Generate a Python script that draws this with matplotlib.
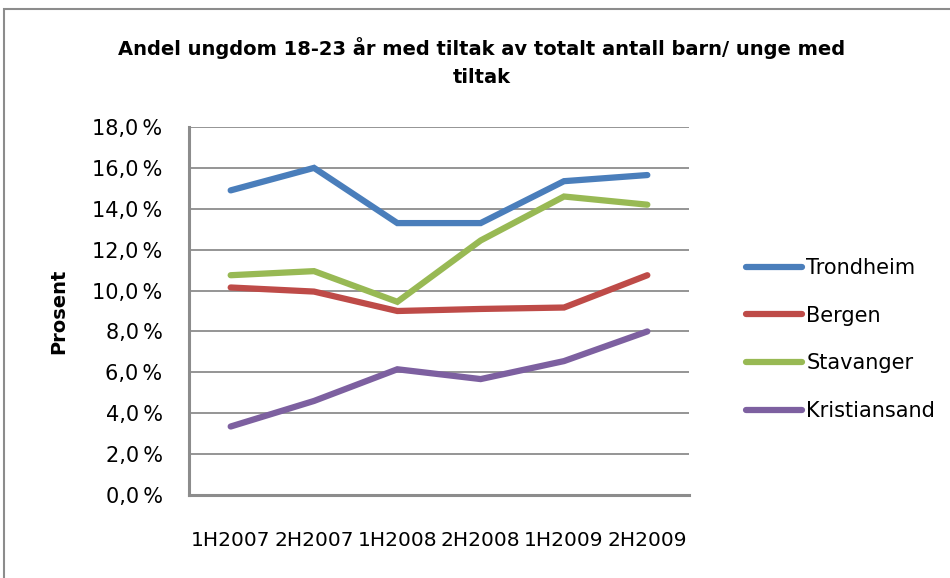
import matplotlib
matplotlib.use('Agg')
import matplotlib.pyplot as plt
from matplotlib.patches import Rectangle
from matplotlib.ticker import FuncFormatter

# data
categories = ['1H2007', '2H2007', '1H2008', '2H2008', '1H2009', '2H2009']
trondheim = [14.9, 16.0, 13.3, 13.3, 15.35, 15.65]
bergen = [10.15, 9.95, 9.0, 9.1, 9.17, 10.75]
stavanger = [10.75, 10.95, 9.45, 12.45, 14.6, 14.2]
kristiansand = [3.35, 4.6, 6.15, 5.67, 6.55, 8.0]
series_names = ['Trondheim', 'Bergen', 'Stavanger', 'Kristiansand']
colors = ['#4A7EBB', '#BE4B48', '#98B954', '#7D60A0']

title = 'Andel ungdom 18-23 år med tiltak av totalt antall barn/ unge med\ntiltak'
ylabel = 'Prosent'

plt.rcParams['font.family'] = ['DejaVu Sans']

fig = plt.figure(figsize=(9.5, 5.78), dpi=100)

# outer chart border (cut off at right and bottom like the reference)
fig.patches.append(Rectangle((4 / 950, -0.05), 1.0, 1.05 - 9 / 578,
                             transform=fig.transFigure, fill=False,
                             edgecolor='#8c8c8c', linewidth=1.5))

ax = fig.add_axes([189 / 950, 1 - 495 / 578, 500 / 950, 368 / 578])

x = list(range(len(categories)))
for name, vals, c in zip(series_names, [trondheim, bergen, stavanger, kristiansand], colors):
    ax.plot(x, vals, color=c, linewidth=4.5, label=name, solid_capstyle='round',
            solid_joinstyle='miter')

ax.set_xlim(-0.5, len(categories) - 0.5)
ax.set_ylim(0, 18)
ax.set_yticks(range(0, 19, 2))
ax.yaxis.set_major_formatter(FuncFormatter(lambda v, p: ('%.1f\u2009%%' % v).replace('.', ',')))
ax.set_xticks(x)
ax.set_xticklabels(categories)
ax.tick_params(axis='both', length=0, labelsize=15)
ax.tick_params(axis='x', pad=26, labelsize=14.5)
ax.tick_params(axis='y', pad=19)

ax.grid(axis='y', color='#8c8c8c', linewidth=1.3)
ax.set_axisbelow(True)
for s in ['top', 'right']:
    ax.spines[s].set_visible(False)
for s in ['left', 'bottom']:
    ax.spines[s].set_color('#8c8c8c')
    ax.spines[s].set_linewidth(2.2)

ax.set_ylabel(ylabel, fontsize=14, fontweight='bold', labelpad=17)

fig.text(482 / 950, 1 - 62 / 578, title, ha='center', va='center', fontsize=14,
         fontweight='bold', linespacing=1.65)

leg = ax.legend(loc='center left', bbox_to_anchor=(1.076, 0.4226), frameon=False,
                fontsize=15, handlelength=2.7, handletextpad=0.2, labelspacing=1.33)
for h in leg.get_lines():
    h.set_linewidth(4.5)

fig.savefig('out.png', dpi=100)
